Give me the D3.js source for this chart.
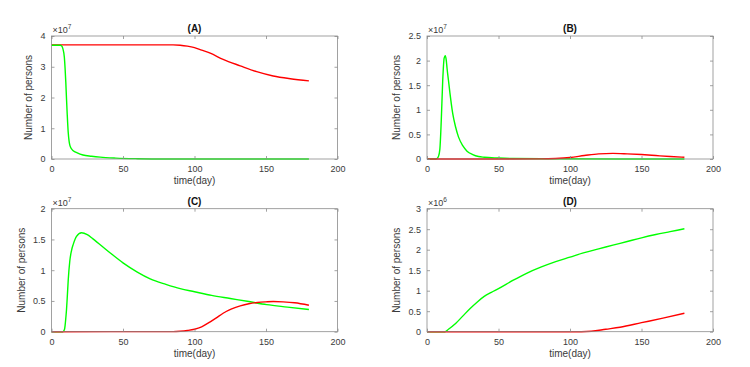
<!DOCTYPE html>
<html>
<head>
<meta charset="utf-8">
<script src="https://cdn.jsdelivr.net/npm/d3@7"></script>
<style>
  body { margin: 0; background: #fff; }
  text { font-family: "Liberation Sans", Arial, sans-serif; }
</style>
</head>
<body>
<div class="chart"></div>
<script>
// values in units of 10^7 (A, B, C) or 10^6 (D)
const aGreenT = [0, 6, 7, 8, 9, 9.5, 10, 10.5, 11, 11.7, 12.3, 12.8, 14, 15.2, 18, 22, 28, 34, 45, 60, 80, 180];
const aGreenV = [3.7, 3.7, 3.68, 3.58, 3.3, 2.95, 2.5, 1.95, 1.45, 0.86, 0.58, 0.45, 0.33, 0.27, 0.2, 0.13, 0.09, 0.06, 0.03, 0.01, 0, 0];
const aRedT = [0, 85, 90, 95, 100, 105, 111, 120, 132, 143.5, 155, 167, 180];
const aRedV = [3.71, 3.71, 3.7, 3.67, 3.62, 3.54, 3.44, 3.24, 3.03, 2.84, 2.7, 2.61, 2.54];

const bGreenT = [0, 6, 7, 8, 9, 10, 11, 12, 12.8, 13.5, 14, 15, 16, 17, 18, 20, 22, 25, 28, 32, 36, 40, 50, 60, 80, 180];
const bGreenV = [0, 0, 0.01, 0.05, 0.2, 0.8, 1.6, 2.05, 2.1, 2.0, 1.85, 1.6, 1.35, 1.12, 0.92, 0.65, 0.45, 0.27, 0.16, 0.09, 0.05, 0.035, 0.02, 0.01, 0.005, 0];
const bRedT = [0, 80, 90, 100, 110, 120, 130, 140, 150, 160, 170, 180];
const bRedV = [0, 0.002, 0.01, 0.03, 0.07, 0.105, 0.115, 0.105, 0.09, 0.07, 0.05, 0.035];

const cGreenT = [0, 8, 9, 9.5, 10, 10.5, 11, 11.7, 12.8, 14, 15.2, 17.5, 21, 25, 29, 40, 50, 60, 69, 80, 90, 100, 112, 125, 138, 150.5, 165, 180];
const cGreenV = [0, 0, 0.03, 0.1, 0.22, 0.36, 0.55, 0.84, 1.15, 1.32, 1.42, 1.55, 1.61, 1.58, 1.51, 1.3, 1.12, 0.97, 0.86, 0.77, 0.7, 0.65, 0.59, 0.54, 0.49, 0.44, 0.4, 0.36];
const cRedT = [0, 85, 90, 95, 100, 105, 111, 115, 120, 126, 132, 138, 144, 150, 155, 162, 170, 180];
const cRedV = [0, 0.002, 0.008, 0.02, 0.04, 0.08, 0.16, 0.22, 0.3, 0.37, 0.42, 0.455, 0.475, 0.485, 0.49, 0.485, 0.47, 0.43];

const dGreenT = [0, 12.5, 15, 20, 25, 30, 35, 40, 45, 50, 60, 70, 80, 90, 100, 110, 120, 130, 140, 150, 160, 170, 180];
const dGreenV = [0, 0, 0.06, 0.2, 0.38, 0.56, 0.72, 0.86, 0.96, 1.05, 1.25, 1.43, 1.58, 1.71, 1.82, 1.93, 2.02, 2.11, 2.2, 2.29, 2.37, 2.44, 2.51];
const dRedT = [0, 108, 115, 125, 135, 150, 165, 180];
const dRedV = [0, 0, 0.01, 0.06, 0.11, 0.22, 0.33, 0.45];

const xTicks = [0, 50, 100, 150, 200];

const panels = [
  {title: '(A)', col: 0, row: 0, yMax: 4, yTicks: [0, 1, 2, 3, 4], exp: '7',
   series: [[aRedT, aRedV, '#ff0000'], [aGreenT, aGreenV, '#00ff00']]},
  {title: '(B)', col: 1, row: 0, yMax: 2.5, yTicks: [0, 0.5, 1, 1.5, 2, 2.5], exp: '7',
   series: [[bGreenT, bGreenV, '#00ff00'], [bRedT, bRedV, '#ff0000']]},
  {title: '(C)', col: 0, row: 1, yMax: 2, yTicks: [0, 0.5, 1, 1.5, 2], exp: '7',
   series: [[cGreenT, cGreenV, '#00ff00'], [cRedT, cRedV, '#ff0000']]},
  {title: '(D)', col: 1, row: 1, yMax: 3, yTicks: [0, 0.5, 1, 1.5, 2, 2.5, 3], exp: '6',
   series: [[dGreenT, dGreenV, '#00ff00'], [dRedT, dRedV, '#ff0000']]}
];

const W = 750, H = 367;
const pw = 286, ph = 123;
const lefts = [51.5, 427];
const tops = [36, 208.7];

const svg = d3.select('.chart')
  .append('svg')
  .attr('width', W)
  .attr('height', H);

const fmt = d => d3.format('~g')(d);
const axisCol = '#8a8a8a';
const textCol = '#3a3a3a';

panels.forEach(p => {
  const g = svg.append('g')
    .attr('transform', 'translate(' + lefts[p.col] + ',' + tops[p.row] + ')');

  const x = d3.scaleLinear().domain([0, 200]).range([0, pw]);
  const y = d3.scaleLinear().domain([0, p.yMax]).range([ph, 0]);

  // lines
  const line = d3.line()
    .x(d => x(d[0]))
    .y(d => y(d[1]))
    .curve(d3.curveMonotoneX);
  p.series.forEach(s => {
    const pts = s[0].map((t, i) => [t, s[1][i]]);
    g.append('path')
      .datum(pts)
      .attr('fill', 'none')
      .attr('stroke', s[2])
      .attr('stroke-width', 1.4)
      .attr('d', line);
  });

  // axes, ticks inward, mirrored (box on)
  const styleAxis = sel => {
    sel.select('.domain').remove();
    sel.selectAll('line').attr('stroke', axisCol).attr('stroke-width', 0.8);
    sel.selectAll('text').attr('fill', textCol).style('font-size', '9px');
  };
  g.append('g')
    .attr('transform', 'translate(0,' + ph + ')')
    .call(d3.axisBottom(x).tickValues(xTicks).tickSize(-3).tickPadding(7).tickFormat(fmt))
    .call(styleAxis);
  g.append('g')
    .call(d3.axisTop(x).tickValues(xTicks).tickSize(-3).tickFormat(''))
    .call(styleAxis);
  const yAx = g.append('g')
    .call(d3.axisLeft(y).tickValues(p.yTicks).tickSize(-3).tickPadding(6).tickFormat(fmt))
    .call(styleAxis);
  g.append('g')
    .attr('transform', 'translate(' + pw + ',0)')
    .call(d3.axisRight(y).tickValues(p.yTicks).tickSize(-3).tickFormat(''))
    .call(styleAxis);

  g.append('rect')
    .attr('width', pw)
    .attr('height', ph)
    .attr('fill', 'none')
    .attr('stroke', axisCol)
    .attr('stroke-width', 0.8);

  // exponent
  const ex = g.append('text')
    .attr('x', 1)
    .attr('y', -3)
    .attr('fill', textCol)
    .style('font-size', '9px');
  ex.append('tspan').text('\u00d710');
  ex.append('tspan').attr('dy', -4).style('font-size', '6.5px').text(p.exp);

  g.append('text')
    .attr('x', pw / 2)
    .attr('y', -4)
    .attr('text-anchor', 'middle')
    .style('font-size', '10px')
    .style('font-weight', 'bold')
    .attr('fill', '#111')
    .text(p.title);

  g.append('text')
    .attr('x', pw / 2)
    .attr('y', ph + 25)
    .attr('text-anchor', 'middle')
    .style('font-size', '10px')
    .attr('fill', textCol)
    .text('time(day)');

  // y label sits left of the widest tick label
  let maxW = 0;
  yAx.selectAll('text').each(function() { maxW = Math.max(maxW, this.getComputedTextLength()); });
  const off = 6 + maxW + 8;
  g.append('text')
    .attr('transform', 'translate(' + (-off) + ',' + (ph / 2) + ') rotate(-90)')
    .attr('text-anchor', 'middle')
    .style('font-size', '10px')
    .attr('fill', textCol)
    .text('Number of persons');
});
</script>
</body>
</html>
